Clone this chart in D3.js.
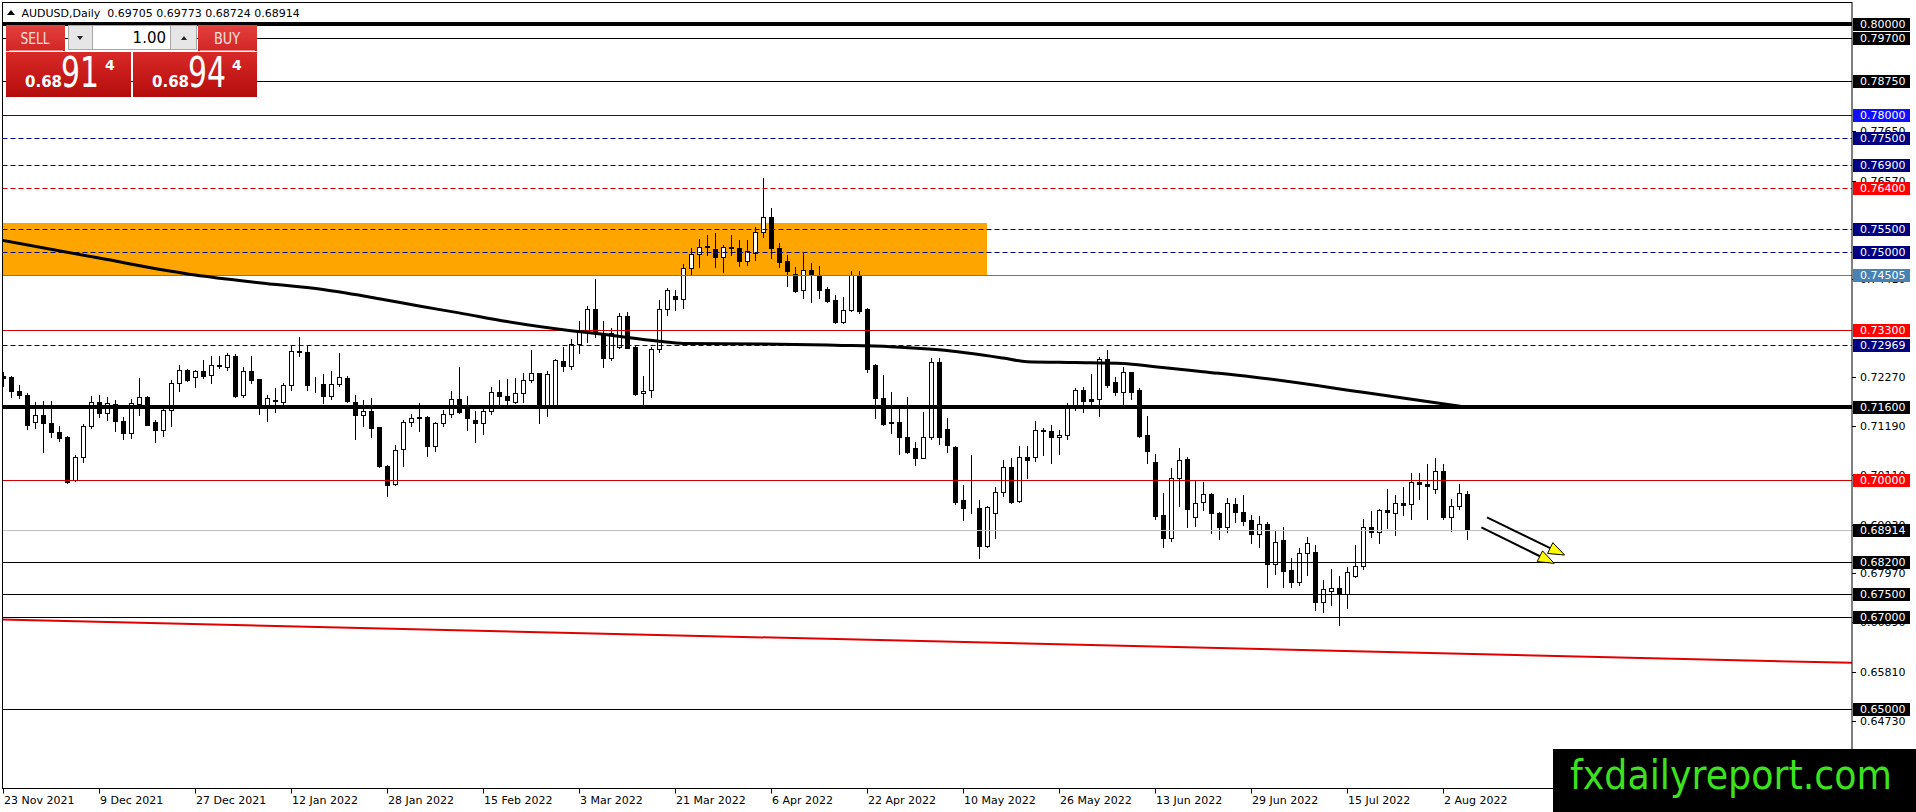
<!DOCTYPE html>
<html>
<head>
<meta charset="utf-8">
<script src="https://cdn.jsdelivr.net/npm/d3@7"></script>
<style>
  html, body { margin: 0; padding: 0; background: #fff; }
  #svg-container { width: 1916px; height: 812px; }
  text { font-family: "DejaVu Sans", sans-serif; }
</style>
</head>
<body>
<div id="svg-container"></div>
<script>
////////////////////////////////////////////////////////////////////
////////////////////////////  Data  ////////////////////////////////
// AUDUSD daily, bar 0 = 23 Nov 2021 ... bar 183 = 5 Aug 2022
const opens = [
  0.72280,0.72272,0.71966,0.71870,0.71278,0.71432,0.71256,0.71066,0.70942,0.70006,
  0.70518,0.71183,0.71710,0.71476,0.71673,0.71308,0.71030,0.71673,0.71834,0.71286,
  0.71103,0.71541,0.72134,0.72426,0.72258,0.72404,0.72309,0.72514,0.72477,0.72726,
  0.71871,0.72404,0.72214,0.71600,0.71750,0.71710,0.72090,0.72843,0.72821,0.72105,
  0.72112,0.71849,0.72112,0.72243,0.71710,0.71432,0.71527,0.71161,0.70321,0.69919,
  0.70679,0.71278,0.71381,0.71395,0.70752,0.71256,0.71454,0.71783,0.71658,0.71322,
  0.71249,0.71527,0.71944,0.71849,0.71724,0.71907,0.72199,0.72345,0.71578,0.71651,
  0.72615,0.72513,0.72980,0.73243,0.73747,0.73221,0.72673,0.72929,0.73601,0.72915,
  0.71907,0.71980,0.72871,0.73747,0.74040,0.73967,0.74646,0.74953,0.75106,0.75062,
  0.74887,0.75099,0.75085,0.74814,0.74989,0.75434,0.75778,0.75084,0.74806,0.74514,
  0.74163,0.74602,0.74485,0.74193,0.73952,0.73477,0.73725,0.74485,0.73754,0.72527,
  0.71797,0.71263,0.71270,0.70957,0.70715,0.70496,0.70957,0.72600,0.71124,0.70737,
  0.69569,0.69386,0.69401,0.68568,0.69276,0.69737,0.70299,0.69554,0.70511,0.70518,
  0.71103,0.71073,0.70942,0.70986,0.71577,0.71979,0.71775,0.71775,0.72651,0.72162,
  0.71928,0.72366,0.71979,0.70986,0.70394,0.69240,0.68728,0.70043,0.70460,0.69203,
  0.69517,0.69700,0.69291,0.68970,0.69481,0.69298,0.69123,0.68816,0.69035,0.68158,
  0.68691,0.68034,0.67778,0.68399,0.68436,0.67340,0.67581,0.67632,0.67508,0.67902,
  0.68121,0.68984,0.68874,0.69349,0.69276,0.69510,0.69473,0.69955,0.69919,0.69802,
  0.70211,0.69203,0.69444,0.69705
];
const highs = [
  0.72380,0.72294,0.72090,0.71922,0.71710,0.71732,0.71746,0.71198,0.70979,0.70562,
  0.71235,0.71849,0.71878,0.71834,0.71768,0.71381,0.71783,0.72243,0.71849,0.71330,
  0.71600,0.72199,0.72536,0.72448,0.72426,0.72638,0.72726,0.72733,0.72784,0.72770,
  0.72492,0.72733,0.72221,0.71870,0.72017,0.72134,0.72952,0.73150,0.72952,0.72272,
  0.72331,0.72389,0.72784,0.72280,0.71878,0.71761,0.71805,0.71176,0.70335,0.70781,
  0.71322,0.71454,0.71688,0.71410,0.71270,0.71549,0.71966,0.72492,0.71856,0.71512,
  0.71563,0.72039,0.72199,0.72221,0.72235,0.72345,0.72856,0.72360,0.72403,0.72659,
  0.72929,0.73090,0.73484,0.73828,0.74412,0.73499,0.73345,0.73674,0.73696,0.72944,
  0.72294,0.72929,0.73952,0.74208,0.74171,0.74741,0.75085,0.75281,0.75376,0.75413,
  0.75157,0.75376,0.75267,0.75267,0.75559,0.76618,0.75960,0.75194,0.74938,0.74682,
  0.74974,0.74755,0.74697,0.74244,0.74061,0.74018,0.74587,0.74587,0.73784,0.72542,
  0.72308,0.71928,0.71577,0.71833,0.70847,0.71505,0.72688,0.72688,0.71373,0.70759,
  0.69897,0.70555,0.69568,0.69437,0.69861,0.70445,0.70496,0.70752,0.70752,0.71300,
  0.71139,0.71212,0.71103,0.71687,0.72016,0.72038,0.72330,0.72710,0.72856,0.72271,
  0.72490,0.72381,0.72016,0.71409,0.70569,0.69715,0.70263,0.70701,0.70518,0.69992,
  0.69956,0.69729,0.69313,0.69605,0.69605,0.69678,0.69239,0.69217,0.69093,0.68910,
  0.68969,0.68290,0.68509,0.68764,0.68582,0.67815,0.68049,0.67902,0.68107,0.68582,
  0.69144,0.69327,0.69364,0.69802,0.69678,0.69846,0.70152,0.70167,0.70350,0.70481,
  0.70357,0.69583,0.69911,0.69773
];
const lows = [
  0.72060,0.71834,0.71805,0.71118,0.71147,0.70628,0.70942,0.70854,0.69933,0.69992,
  0.70394,0.71147,0.71381,0.71322,0.71088,0.70906,0.70927,0.71439,0.71205,0.70832,
  0.70979,0.71198,0.71951,0.72170,0.72053,0.72243,0.72141,0.72463,0.72419,0.71834,
  0.71834,0.72126,0.71454,0.71293,0.71490,0.71637,0.71981,0.72726,0.71976,0.71929,
  0.71695,0.71783,0.72075,0.71724,0.70906,0.71198,0.70957,0.70299,0.69663,0.69897,
  0.70321,0.71198,0.71088,0.70540,0.70650,0.71198,0.71395,0.71468,0.71103,0.70847,
  0.71015,0.71454,0.71585,0.71637,0.71688,0.71724,0.72162,0.71250,0.71410,0.71607,
  0.72403,0.72440,0.72783,0.73024,0.73148,0.72476,0.72637,0.72893,0.72893,0.71870,
  0.71578,0.71819,0.72820,0.73623,0.73733,0.73769,0.74500,0.74668,0.74938,0.74682,
  0.74573,0.74938,0.74697,0.74719,0.74828,0.75339,0.74879,0.74682,0.74266,0.74120,
  0.74003,0.73915,0.73988,0.73915,0.73440,0.73440,0.73711,0.73659,0.72366,0.71373,
  0.71212,0.71030,0.70569,0.70591,0.70336,0.70482,0.70905,0.70789,0.70613,0.69474,
  0.69131,0.69277,0.68305,0.68546,0.68743,0.69664,0.69510,0.69532,0.70043,0.70431,
  0.70555,0.70372,0.70577,0.70905,0.71541,0.71504,0.71650,0.71409,0.72038,0.71870,
  0.71650,0.71775,0.70942,0.70387,0.69145,0.68531,0.68677,0.69444,0.68984,0.68999,
  0.69349,0.68838,0.68706,0.68874,0.69094,0.69021,0.68633,0.68545,0.67669,0.67946,
  0.67654,0.67654,0.67705,0.67924,0.67157,0.67121,0.67267,0.66829,0.67209,0.67888,
  0.68048,0.68750,0.68618,0.68962,0.68801,0.69239,0.69144,0.69583,0.69144,0.69714,
  0.69144,0.68889,0.69364,0.68724
];
const closes = [
  0.72250,0.71966,0.71863,0.71205,0.71432,0.71256,0.71052,0.70920,0.69955,0.70518,
  0.71198,0.71710,0.71468,0.71688,0.71293,0.71030,0.71688,0.71819,0.71220,0.71103,
  0.71549,0.72134,0.72419,0.72207,0.72404,0.72294,0.72521,0.72528,0.72755,0.71856,
  0.72404,0.72199,0.71600,0.71805,0.71732,0.72090,0.72843,0.72806,0.72090,0.72112,
  0.71849,0.72112,0.72272,0.71746,0.71432,0.71512,0.71147,0.70306,0.69897,0.70664,
  0.71286,0.71366,0.71373,0.70752,0.71256,0.71454,0.71783,0.71490,0.71366,0.71249,
  0.71512,0.71936,0.71849,0.71761,0.71907,0.72199,0.72345,0.71578,0.72323,0.72637,
  0.72513,0.72988,0.73243,0.73747,0.73258,0.72673,0.73221,0.73601,0.72907,0.71892,
  0.71958,0.72871,0.73755,0.74171,0.73967,0.74646,0.74953,0.75106,0.75143,0.74887,
  0.75106,0.75106,0.74814,0.75026,0.75435,0.75778,0.75084,0.74792,0.74587,0.74149,
  0.74602,0.74500,0.74171,0.73930,0.73477,0.73725,0.74500,0.73711,0.72440,0.71797,
  0.71227,0.71270,0.70957,0.70613,0.70496,0.70957,0.72600,0.70957,0.70774,0.69532,
  0.69386,0.69393,0.68568,0.69423,0.69737,0.70299,0.69532,0.70511,0.70438,0.71103,
  0.71081,0.70942,0.70986,0.71577,0.71979,0.71745,0.71745,0.72651,0.72089,0.71943,
  0.72366,0.71943,0.70971,0.70650,0.69225,0.68728,0.70043,0.70438,0.69364,0.69495,
  0.69700,0.69276,0.68970,0.69495,0.69298,0.69116,0.68820,0.69035,0.68158,0.68655,
  0.68019,0.67778,0.68399,0.68618,0.67340,0.67610,0.67632,0.67508,0.67983,0.68121,
  0.68984,0.68874,0.69349,0.69298,0.69495,0.69458,0.69955,0.69912,0.69875,0.70211,
  0.69203,0.69444,0.69714,0.68914
];

// time axis labels (bar index -> label)
const tickBars = [0, 12, 24, 36, 48, 60, 72, 84, 96, 108, 120, 132, 144, 156, 168, 180];
const tickLabels = [
  "23 Nov 2021", "9 Dec 2021", "27 Dec 2021", "12 Jan 2022", "28 Jan 2022",
  "15 Feb 2022", "3 Mar 2022", "21 Mar 2022", "6 Apr 2022", "22 Apr 2022",
  "10 May 2022", "26 May 2022", "13 Jun 2022", "29 Jun 2022", "15 Jul 2022", "2 Aug 2022"
];

// price scale ticks
const priceTicks = [0.7765, 0.7657, 0.7441, 0.7227, 0.7119, 0.7011, 0.6903, 0.6797, 0.6689, 0.6581, 0.6473];

// horizontal levels
const levelPrices = [0.8, 0.797, 0.7875, 0.78, 0.775, 0.769, 0.764, 0.755, 0.75, 0.74505,
  0.733, 0.72969, 0.716, 0.7, 0.68914, 0.682, 0.675, 0.67, 0.65];

// moving average, read at some bars
const maBars = [-1, 12, 24, 32, 40, 47, 52, 57, 63, 71, 75, 82, 85, 95, 104, 111, 117, 125, 128, 134, 140, 144, 150, 156, 170, 183];
const maValues = [0.7529, 0.7487, 0.7450, 0.7433, 0.7418, 0.7398, 0.7382, 0.7367, 0.7348, 0.7328, 0.7320, 0.7305,
  0.7300, 0.7299, 0.7296, 0.7293, 0.7286, 0.7268, 0.7260, 0.7258, 0.7256, 0.7249, 0.7238, 0.7227, 0.7193, 0.7160];

// red trend line
const trendBars = [-0.4, 231.1];
const trendValues = [0.6695, 0.6600];

// orange zone
const zoneBars = [-5, 123];
const zoneValues = [0.7564, 0.74505];

// arrows
const arrowBars = [[185.5, 195.2], [184.8, 193.9]];
const arrowValues = [[0.69189, 0.68363], [0.68970, 0.68181]];

// header text
const titleText = "AUDUSD,Daily  0.69705 0.69773 0.68724 0.68914";

////////////////////////////////////////////////////////////////////
////////////////////////////  Styles  //////////////////////////////
const NAVY = "#000080";
const levelStyle = [
  { stroke: "#000", width: 4, dash: null, label: "#000" },
  { stroke: "#000", width: 1, dash: null, label: "#000" },
  { stroke: "#000", width: 1, dash: null, label: "#000" },
  { stroke: "#0000ff", width: 1, dash: null, label: "#1010ff" },
  { stroke: NAVY, width: 1, dash: "5,3", label: NAVY },
  { stroke: NAVY, width: 1, dash: "5,3", label: NAVY },
  { stroke: "#e00000", width: 1, dash: "5,3", label: "#ff0000" },
  { stroke: NAVY, width: 1, dash: "5,3", label: NAVY },
  { stroke: NAVY, width: 1, dash: "5,3", label: NAVY },
  { stroke: "#4682b4", width: 1, dash: null, label: "#4682b4" },
  { stroke: "#d00000", width: 1, dash: null, label: "#ff0000" },
  { stroke: NAVY, width: 1, dash: "5,3", label: NAVY },
  { stroke: "#000", width: 4, dash: null, label: "#000" },
  { stroke: "#d00000", width: 1, dash: null, label: "#ff0000" },
  { stroke: "#c0c0c0", width: 1, dash: null, label: "#000" },
  { stroke: "#000", width: 1, dash: null, label: "#000" },
  { stroke: "#000", width: 1, dash: null, label: "#000" },
  { stroke: "#000", width: 1, dash: null, label: "#000" },
  { stroke: "#000", width: 1, dash: null, label: "#000" }
];

////////////////////////////////////////////////////////////////////
////////////////////////////  Init  ////////////////////////////////
const width = 1916;
const height = 812;
const plot = { left: 2.5, top: 2.5, right: 1852, bottom: 788.5 };

const svg = d3.select("#svg-container").append("svg")
  .attr("width", width).attr("height", height)
  .style("display", "block");

svg.append("defs").append("clipPath").attr("id", "plot-clip")
  .append("rect")
  .attr("x", plot.left).attr("y", plot.top)
  .attr("width", plot.right - plot.left).attr("height", plot.bottom - plot.top);

// scales
const xScale = d3.scaleLinear().domain([0, 183]).range([3, 3 + 8 * 183]);
const yScale = d3.scaleLinear().domain([0.65, 0.80]).range([708.5, 24]);

const px = (i) => Math.round(xScale(i));
const py = (v) => Math.round(yScale(v));

const chart = svg.append("g").attr("clip-path", "url(#plot-clip)");

// zone (background)
chart.append("rect")
  .attr("x", xScale(zoneBars[0]))
  .attr("y", py(zoneValues[0]))
  .attr("width", xScale(zoneBars[1]) - xScale(zoneBars[0]))
  .attr("height", py(zoneValues[1]) - py(zoneValues[0]))
  .attr("fill", "#ffa500");

// candles
const bars = d3.range(opens.length).map((i) => ({
  i: i, o: opens[i], h: highs[i], l: lows[i], c: closes[i]
}));

const candle = chart.append("g").attr("class", "candles")
  .selectAll("g").data(bars).enter().append("g");

candle.append("line")
  .attr("x1", (d) => px(d.i) + 0.5).attr("x2", (d) => px(d.i) + 0.5)
  .attr("y1", (d) => py(d.h)).attr("y2", (d) => py(d.l) + 1)
  .attr("stroke", "#000").attr("stroke-width", 1);

candle.filter((d) => d.c >= d.o).append("rect")
  .attr("x", (d) => px(d.i) - 2 + 0.5)
  .attr("y", (d) => py(d.c) + 0.5)
  .attr("width", 4)
  .attr("height", (d) => Math.max(0, py(d.o) - py(d.c)))
  .attr("fill", "#fff").attr("stroke", "#000").attr("stroke-width", 1);

candle.filter((d) => d.c < d.o).append("rect")
  .attr("x", (d) => px(d.i) - 2)
  .attr("y", (d) => py(d.o))
  .attr("width", 5)
  .attr("height", (d) => Math.max(1, py(d.c) - py(d.o) + 1))
  .attr("fill", "#000");

// horizontal levels
chart.append("g").attr("class", "levels")
  .selectAll("line").data(levelPrices).enter().append("line")
  .attr("x1", plot.left).attr("x2", plot.right)
  .attr("y1", (d, i) => levelStyle[i].width % 2 ? py(d) + 0.5 : py(d))
  .attr("y2", (d, i) => levelStyle[i].width % 2 ? py(d) + 0.5 : py(d))
  .attr("stroke", (d, i) => levelStyle[i].stroke)
  .attr("stroke-width", (d, i) => levelStyle[i].width)
  .attr("stroke-dasharray", (d, i) => levelStyle[i].dash);

// moving average
const maLine = d3.line()
  .x((d) => xScale(d[0]))
  .y((d) => yScale(d[1]))
  .curve(d3.curveMonotoneX);

chart.append("path")
  .datum(maBars.map((b, k) => [b, maValues[k]]))
  .attr("fill", "none").attr("stroke", "#000").attr("stroke-width", 3)
  .attr("d", maLine);

// red trend line
chart.append("line")
  .attr("x1", xScale(trendBars[0])).attr("y1", yScale(trendValues[0]))
  .attr("x2", xScale(trendBars[1])).attr("y2", yScale(trendValues[1]))
  .attr("stroke", "#e00000").attr("stroke-width", 2);

// arrows
arrowBars.forEach((ab, k) => {
  const x1 = xScale(ab[0]), y1 = yScale(arrowValues[k][0]);
  const x2 = xScale(ab[1]), y2 = yScale(arrowValues[k][1]);
  const ang = Math.atan2(y2 - y1, x2 - x1);
  const len = 16, half = 6;
  const bx = x2 - len * Math.cos(ang), by = y2 - len * Math.sin(ang);
  chart.append("line")
    .attr("x1", x1).attr("y1", y1).attr("x2", bx).attr("y2", by)
    .attr("stroke", "#000").attr("stroke-width", 2);
  const pts = [
    [x2, y2],
    [bx + half * Math.sin(ang), by - half * Math.cos(ang)],
    [bx - half * Math.sin(ang), by + half * Math.cos(ang)]
  ];
  chart.append("path")
    .attr("d", "M" + pts.map((p) => p.join(",")).join("L") + "Z")
    .attr("fill", "#ffff00").attr("stroke", "#000").attr("stroke-width", 1);
});

// frame
svg.append("rect")
  .attr("x", plot.left).attr("y", plot.top)
  .attr("width", plot.right - plot.left).attr("height", plot.bottom - plot.top)
  .attr("fill", "none").attr("stroke", "#000").attr("stroke-width", 1);

////////////////////////////////////////////////////////////////////
////////////////////////////  Axes  ////////////////////////////////
// time axis
const xAxis = svg.append("g").attr("class", "x-axis");
xAxis.selectAll("line").data(tickBars).enter().append("line")
  .attr("x1", (d) => px(d) + 0.5).attr("x2", (d) => px(d) + 0.5)
  .attr("y1", plot.bottom).attr("y2", plot.bottom + 5)
  .attr("stroke", "#000");
xAxis.selectAll("text").data(tickBars).enter().append("text")
  .attr("x", (d) => px(d) + 1)
  .attr("y", 804)
  .attr("font-size", 11)
  .attr("fill", "#000")
  .text((d, i) => tickLabels[i]);

// price axis ticks
const yAxis = svg.append("g").attr("class", "y-axis");
yAxis.selectAll("line").data(priceTicks).enter().append("line")
  .attr("x1", plot.right).attr("x2", plot.right + 4)
  .attr("y1", (d) => py(d) + 0.5).attr("y2", (d) => py(d) + 0.5)
  .attr("stroke", "#000");
yAxis.selectAll("text").data(priceTicks).enter().append("text")
  .attr("x", 1860).attr("y", (d) => py(d) + 4)
  .attr("font-size", 11).attr("fill", "#000")
  .text((d) => d.toFixed(5));

// level labels
const lab = yAxis.selectAll("g.lab").data(levelPrices).enter().append("g").attr("class", "lab");
lab.append("rect")
  .attr("x", 1853).attr("y", (d) => py(d) - 6)
  .attr("width", 57).attr("height", 13)
  .attr("fill", (d, i) => levelStyle[i].label);
lab.append("text")
  .attr("x", 1860).attr("y", (d) => py(d) + 4)
  .attr("font-size", 11).attr("fill", "#fff")
  .text((d) => d.toFixed(5));

////////////////////////////////////////////////////////////////////
////////////////////////////  Header  //////////////////////////////
svg.append("path").attr("d", "M7,15L11,10L15,15Z").attr("fill", "#000");
svg.append("text").attr("x", 21.5).attr("y", 17)
  .attr("font-size", 11).attr("fill", "#000")
  .attr("xml:space", "preserve")
  .text(titleText);

// one click trading panel
const defs = svg.select("defs");
const g1 = defs.append("linearGradient").attr("id", "redTop").attr("x1", 0).attr("y1", 0).attr("x2", 0).attr("y2", 1);
g1.append("stop").attr("offset", "0%").attr("stop-color", "#e4403c");
g1.append("stop").attr("offset", "100%").attr("stop-color", "#d02626");
const g2 = defs.append("linearGradient").attr("id", "redBig").attr("x1", 0).attr("y1", 0).attr("x2", 0).attr("y2", 1);
g2.append("stop").attr("offset", "0%").attr("stop-color", "#d82a28");
g2.append("stop").attr("offset", "100%").attr("stop-color", "#b40c0c");

const panel = svg.append("g").attr("class", "panel");
panel.append("rect").attr("x", 6).attr("y", 25).attr("width", 59).attr("height", 26).attr("fill", "url(#redTop)");
panel.append("rect").attr("x", 198).attr("y", 25).attr("width", 59).attr("height", 26).attr("fill", "url(#redTop)");
panel.append("line").attr("x1", 9).attr("x2", 63).attr("y1", 50.5).attr("y2", 50.5).attr("stroke", "#f08a8a");
panel.append("line").attr("x1", 200).attr("x2", 255).attr("y1", 50.5).attr("y2", 50.5).attr("stroke", "#f08a8a");
panel.append("rect").attr("x", 6).attr("y", 52).attr("width", 125).attr("height", 45).attr("fill", "url(#redBig)");
panel.append("rect").attr("x", 133).attr("y", 52).attr("width", 124).attr("height", 45).attr("fill", "url(#redBig)");

// spinner
panel.append("rect").attr("x", 68.5).attr("y", 25.5).attr("width", 128).attr("height", 24)
  .attr("fill", "#e6e6e6").attr("stroke", "#a8a8a8");
panel.append("rect").attr("x", 92.5).attr("y", 25.5).attr("width", 78).attr("height", 24)
  .attr("fill", "#fff").attr("stroke", "#a8a8a8");
panel.append("path").attr("d", "M77,36L83,36L80,40Z").attr("fill", "#222");
panel.append("path").attr("d", "M181,40L187,40L184,36Z").attr("fill", "#222");
panel.append("text").attr("x", 166).attr("y", 43).attr("text-anchor", "end")
  .attr("font-family", "Liberation Sans").attr("font-size", 15).attr("fill", "#000").text("1.00");

panel.append("text").attr("x", 35).attr("y", 44).attr("text-anchor", "middle")
  .attr("font-family", "Liberation Sans").attr("font-size", 15)
  .attr("textLength", 29).attr("lengthAdjust", "spacingAndGlyphs")
  .attr("fill", "#ffe0e0").text("SELL");
panel.append("text").attr("x", 227).attr("y", 44).attr("text-anchor", "middle")
  .attr("font-family", "Liberation Sans").attr("font-size", 15)
  .attr("textLength", 26).attr("lengthAdjust", "spacingAndGlyphs")
  .attr("fill", "#ffe0e0").text("BUY");

const quote = (x0, big) => {
  panel.append("text").attr("x", x0).attr("y", 87)
    .attr("font-family", "Liberation Sans").attr("font-weight", "bold").attr("font-size", 15)
    .attr("fill", "#fff").text("0.68");
  panel.append("text").attr("x", x0 + 36).attr("y", 87)
    .attr("font-family", "Liberation Sans").attr("font-size", 43)
    .attr("textLength", 38).attr("lengthAdjust", "spacingAndGlyphs")
    .attr("fill", "#fff").text(big);
  panel.append("text").attr("x", x0 + 80).attr("y", 70)
    .attr("font-family", "Liberation Sans").attr("font-weight", "bold").attr("font-size", 14)
    .attr("fill", "#fff").text("4");
};
quote(25, "91");
quote(152, "94");

////////////////////////////////////////////////////////////////////
////////////////////////////  Watermark  ///////////////////////////
svg.append("rect").attr("x", 1553).attr("y", 749).attr("width", 363).attr("height", 63).attr("fill", "#000");
svg.append("text").attr("x", 1570).attr("y", 789)
  .attr("font-family", "Liberation Sans").attr("font-size", 40)
  .attr("textLength", 322).attr("lengthAdjust", "spacingAndGlyphs")
  .attr("fill", "#3de21f").text("fxdailyreport.com");
</script>
</body>
</html>
